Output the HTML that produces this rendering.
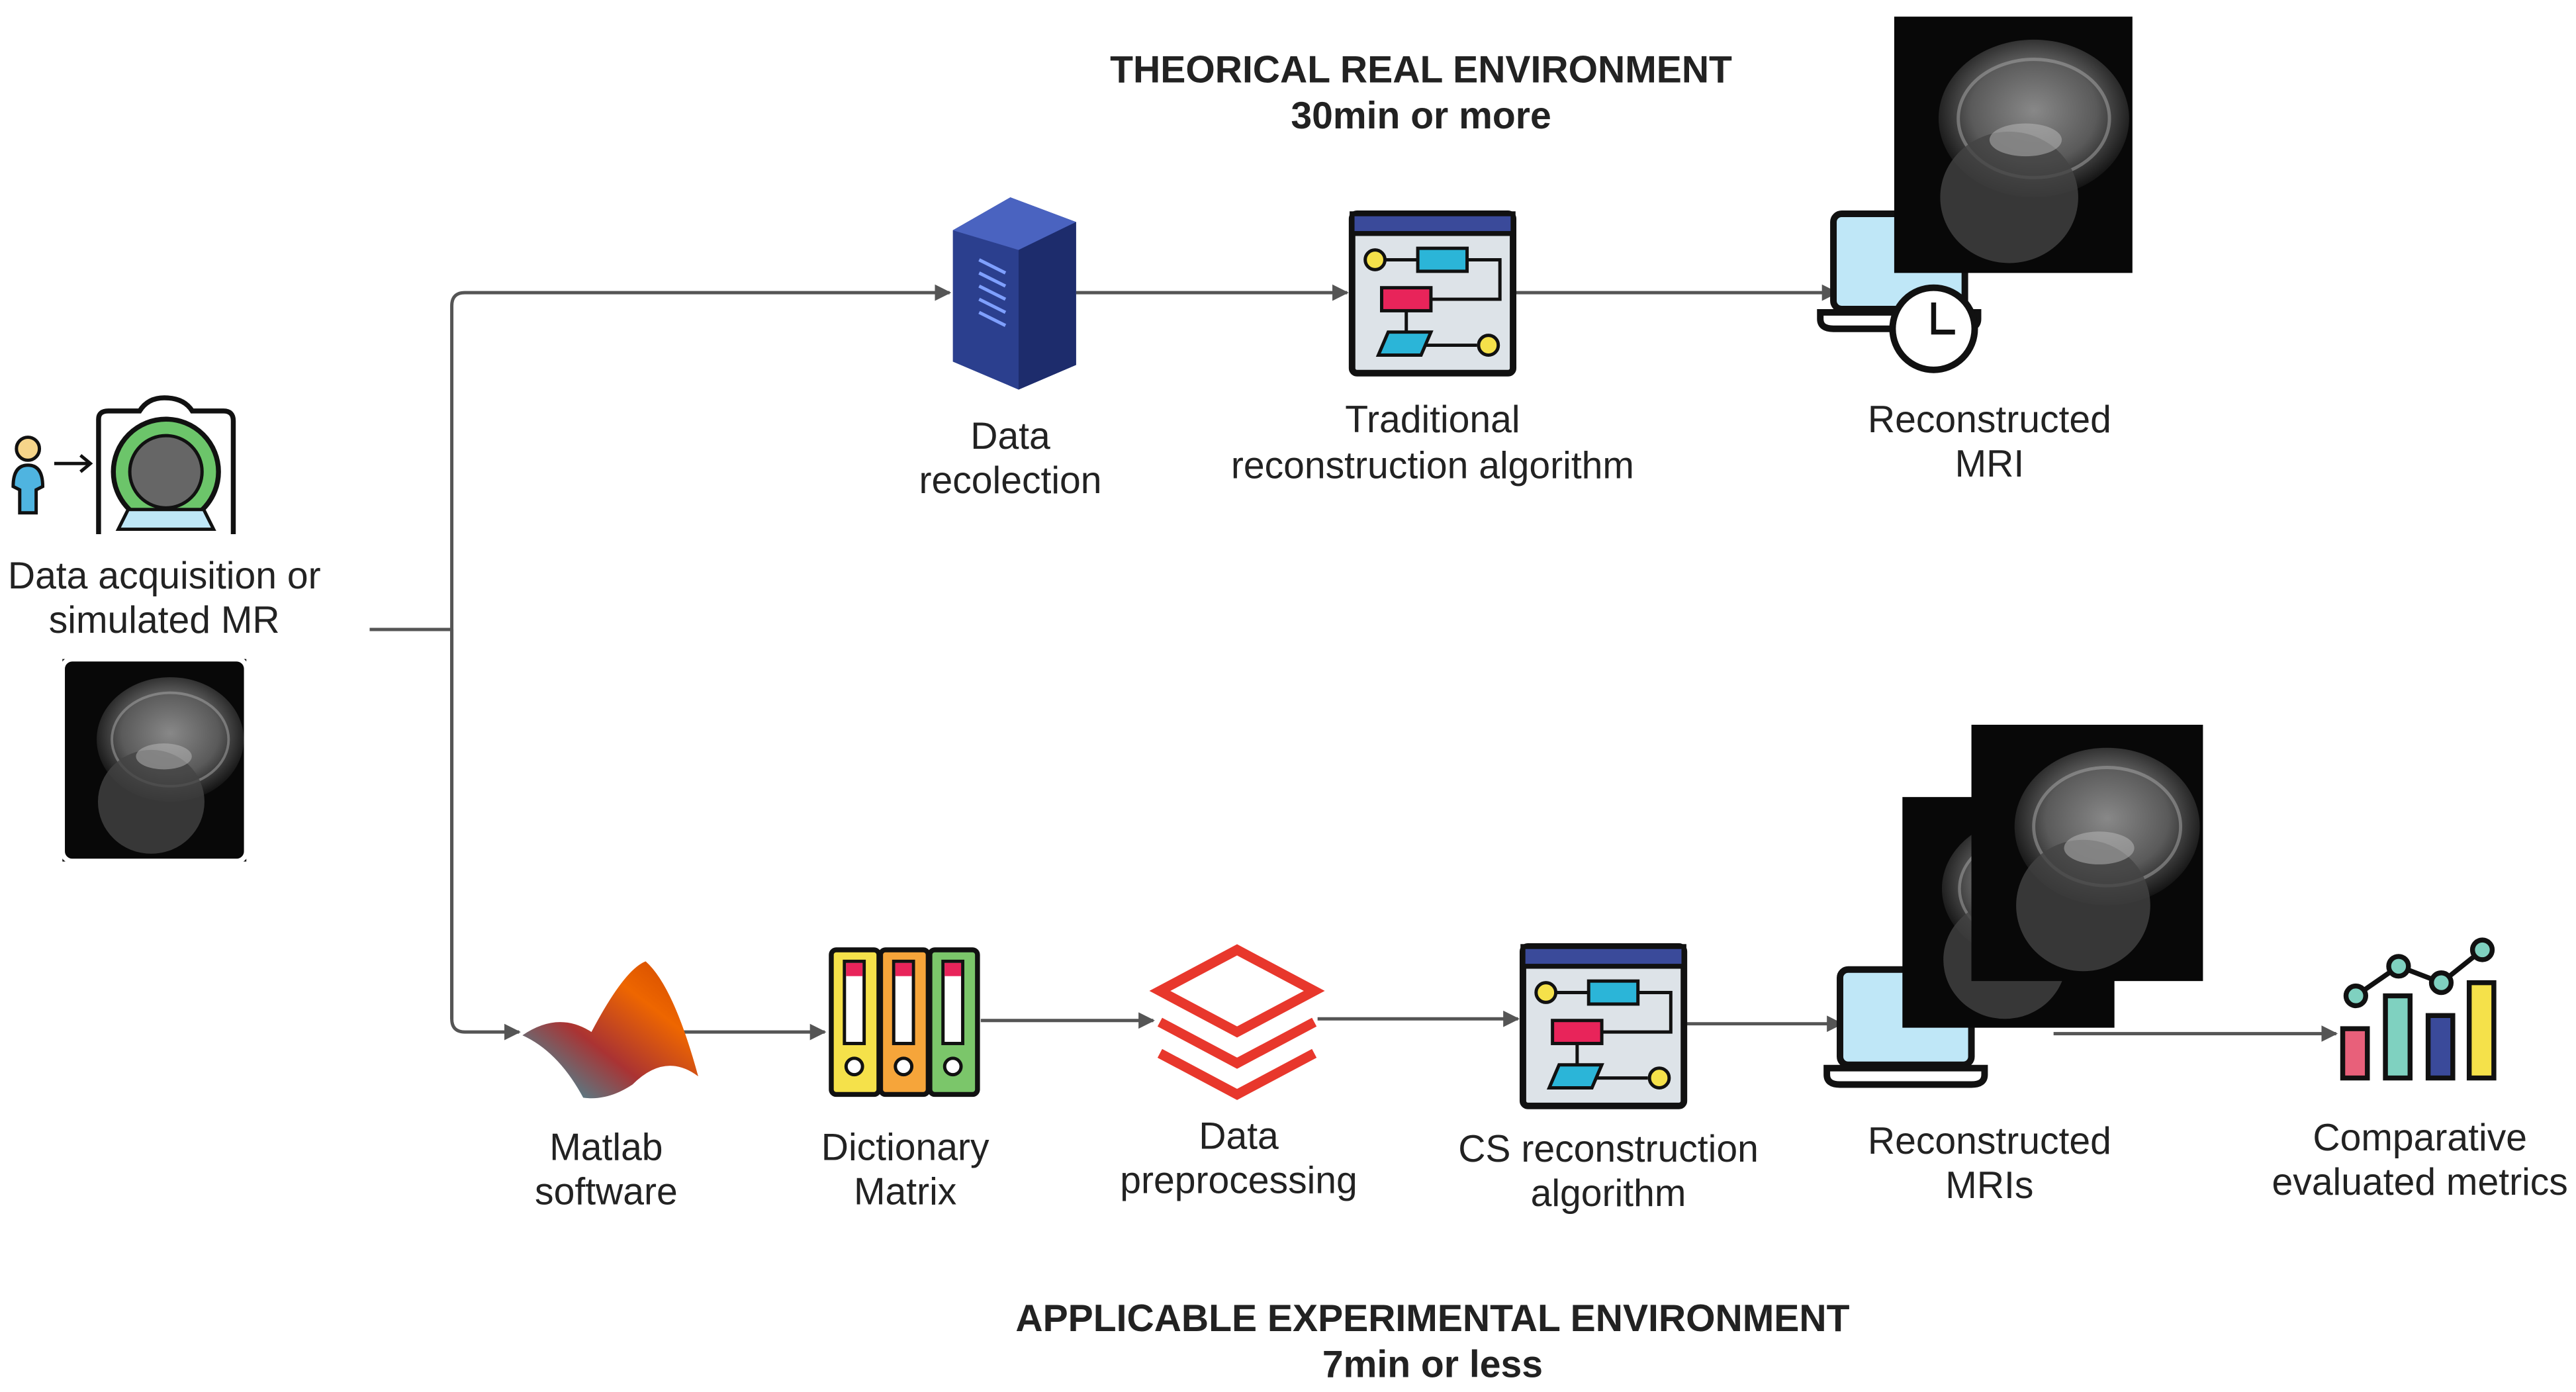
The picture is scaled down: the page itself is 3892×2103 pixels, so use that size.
<!DOCTYPE html>
<html><head><meta charset="utf-8"><style>
html,body{margin:0;padding:0;background:#fff;}
svg{display:block;}
text{font-family:"Liberation Sans",sans-serif;fill:#222;}
</style></head><body>
<svg width="3892" height="2103" viewBox="0 0 1568 847" xmlns="http://www.w3.org/2000/svg">
<defs>
<marker id="ar" markerWidth="10" markerHeight="10" refX="9" refY="5" orient="auto" markerUnits="userSpaceOnUse">
<path d="M0,0 L10,5 L0,10 z" fill="#555"/></marker>
<radialGradient id="brain" cx="0.5" cy="0.45" r="0.55">
<stop offset="0" stop-color="#888"/><stop offset="0.6" stop-color="#5a5a5a"/><stop offset="1" stop-color="#111"/></radialGradient>
<linearGradient id="mat" x1="0" y1="1" x2="1" y2="0">
<stop offset="0" stop-color="#2ab"/><stop offset="0.4" stop-color="#a33"/><stop offset="0.7" stop-color="#e60"/><stop offset="1" stop-color="#c40"/></linearGradient>
<g id="mri">
<rect x="0" y="0" width="145" height="156" fill="#080808"/>
<ellipse cx="85" cy="62" rx="58" ry="48" fill="url(#brain)"/>
<ellipse cx="85" cy="62" rx="46" ry="36" fill="none" stroke="#aaa" stroke-width="2" opacity="0.5"/>
<ellipse cx="70" cy="110" rx="42" ry="40" fill="#444" opacity="0.8"/>
<ellipse cx="80" cy="75" rx="22" ry="10" fill="#bbb" opacity="0.5"/>
</g>
<g id="algo">
<rect x="0" y="0" width="98" height="97" rx="3" fill="#dde3e8" stroke="#111" stroke-width="4"/>
<rect x="0" y="0" width="98" height="12" fill="#3a4a9a" stroke="#111" stroke-width="3"/>
<circle cx="14" cy="28" r="6" fill="#f5e14a" stroke="#111" stroke-width="2"/>
<line x1="20" y1="28" x2="40" y2="28" stroke="#111" stroke-width="2"/>
<rect x="40" y="21" width="30" height="14" fill="#2bb5d8" stroke="#111" stroke-width="2"/>
<path d="M70,28 H90 V52 H48" stroke="#111" stroke-width="2" fill="none"/>
<rect x="18" y="45" width="30" height="14" fill="#e8245a" stroke="#111" stroke-width="2"/>
<line x1="33" y1="59" x2="33" y2="72" stroke="#111" stroke-width="2"/>
<polygon points="22,72 48,72 42,86 16,86" fill="#2bb5d8" stroke="#111" stroke-width="2"/>
<line x1="45" y1="80" x2="76" y2="80" stroke="#111" stroke-width="2"/>
<circle cx="83" cy="80" r="6" fill="#f5e14a" stroke="#111" stroke-width="2"/>
</g>
<g id="laptop">
<rect x="8" y="0" width="80" height="58" rx="5" fill="#bfe7f7" stroke="#111" stroke-width="4"/>
<path d="M0,60 H96 V64 Q96,70 88,70 H8 Q0,70 0,64 Z" fill="#fff" stroke="#111" stroke-width="4"/>
</g>
</defs>

<g font-size="23">
<text x="865" y="50" text-anchor="middle" font-weight="bold">THEORICAL REAL ENVIRONMENT</text>
<text x="865" y="78" text-anchor="middle" font-weight="bold">30min or more</text>
<text x="872" y="810" text-anchor="middle" font-weight="bold">APPLICABLE EXPERIMENTAL ENVIRONMENT</text>
<text x="872" y="838" text-anchor="middle" font-weight="bold">7min or less</text>
</g>

<g stroke="#555" stroke-width="2" fill="none">
<path d="M225,383 H275"/>
<path d="M275,620 V186 Q275,178 283,178 H578" marker-end="url(#ar)"/>
<path d="M275,383 V620 Q275,628 283,628 H316" marker-end="url(#ar)"/>
<path d="M655,178 H820" marker-end="url(#ar)"/>
<path d="M921,178 H1118" marker-end="url(#ar)"/>
<path d="M412,628 H502" marker-end="url(#ar)"/>
<path d="M597,621 H702" marker-end="url(#ar)"/>
<path d="M802,620 H924" marker-end="url(#ar)"/>
<path d="M1025,623 H1121" marker-end="url(#ar)"/>
<path d="M1250,629 H1422" marker-end="url(#ar)"/>
</g>

<circle cx="17" cy="273" r="7" fill="#f6d58a" stroke="#111" stroke-width="2"/>
<path d="M8,296 Q8,283 17,283 Q26,283 26,296 L22,298 V312 H12 V298 Z" fill="#4fb4e0" stroke="#111" stroke-width="2"/>
<line x1="33" y1="282" x2="54" y2="282" stroke="#111" stroke-width="2"/>
<path d="M49,277 L55,282 L49,287" fill="none" stroke="#111" stroke-width="2"/>
<path d="M60,325 V255 Q60,250 66,250 H85 Q90,242 100,242 Q112,242 117,250 H136 Q142,250 142,256 V325" fill="#fff" stroke="#111" stroke-width="3"/>
<circle cx="101" cy="287" r="32" fill="#6cc56a" stroke="#111" stroke-width="3"/>
<circle cx="101" cy="287" r="22" fill="#666" stroke="#111" stroke-width="2"/>
<path d="M78,310 H124 L130,322 H72 Z" fill="#bfe7f7" stroke="#111" stroke-width="2"/>

<g font-size="23" text-anchor="middle">
<text x="100" y="358">Data acquisition or</text>
<text x="100" y="385">simulated MR</text>
<text x="615" y="273">Data</text>
<text x="615" y="300">recolection</text>
<text x="872" y="263">Traditional</text>
<text x="872" y="291">reconstruction algorithm</text>
<text x="1211" y="263">Reconstructed</text>
<text x="1211" y="290">MRI</text>
<text x="369" y="706">Matlab</text>
<text x="369" y="733">software</text>
<text x="551" y="706">Dictionary</text>
<text x="551" y="733">Matrix</text>
<text x="754" y="699">Data</text>
<text x="754" y="726">preprocessing</text>
<text x="979" y="707">CS reconstruction</text>
<text x="979" y="734">algorithm</text>
<text x="1211" y="702">Reconstructed</text>
<text x="1211" y="729">MRIs</text>
<text x="1473" y="700">Comparative</text>
<text x="1473" y="727">evaluated metrics</text>
</g>

<g transform="translate(38,401) scale(0.772,0.79)"><use href="#mri"/></g>
<rect x="38" y="401" width="112" height="123" rx="6" fill="none" stroke="#fff" stroke-width="3"/>

<polygon points="580,140 615,120 655,135 655,222 620,237 580,220" fill="#2b3f8e"/>
<polygon points="580,140 615,120 655,135 620,152" fill="#4a63c0"/>
<polygon points="620,152 655,135 655,222 620,237" fill="#1d2c6c"/>
<g stroke="#7fa0ff" stroke-width="2">
<line x1="596" y1="158" x2="612" y2="166"/><line x1="596" y1="166" x2="612" y2="174"/><line x1="596" y1="174" x2="612" y2="182"/><line x1="596" y1="182" x2="612" y2="190"/><line x1="596" y1="190" x2="612" y2="198"/>
</g>

<use href="#algo" x="823" y="130"/>

<use href="#laptop" x="1108" y="130"/>
<use href="#mri" x="1153" y="10"/>
<circle cx="1177" cy="200" r="25" fill="#fff" stroke="#111" stroke-width="4"/>
<path d="M1177,184 V202 H1190" stroke="#111" stroke-width="3" fill="none"/>

<path d="M318,630 Q340,615 360,628 Q380,590 393,585 Q410,600 425,655 Q405,640 385,660 Q370,670 355,668 Q340,640 318,630 Z" fill="url(#mat)"/>

<g stroke="#111" stroke-width="3">
<rect x="506" y="578" width="29" height="88" rx="3" fill="#f5e14a"/>
<rect x="536" y="578" width="29" height="88" rx="3" fill="#f6a53a"/>
<rect x="566" y="578" width="29" height="88" rx="3" fill="#7bc66a"/>
<rect x="514" y="585" width="12" height="50" fill="#fff" stroke-width="2"/>
<rect x="544" y="585" width="12" height="50" fill="#fff" stroke-width="2"/>
<rect x="574" y="585" width="12" height="50" fill="#fff" stroke-width="2"/>
<circle cx="520" cy="649" r="5" fill="#fff" stroke-width="2"/>
<circle cx="550" cy="649" r="5" fill="#fff" stroke-width="2"/>
<circle cx="580" cy="649" r="5" fill="#fff" stroke-width="2"/>
</g>
<rect x="515" y="586" width="10" height="8" fill="#e8245a"/><rect x="545" y="586" width="10" height="8" fill="#e8245a"/><rect x="575" y="586" width="10" height="8" fill="#e8245a"/>

<g fill="none" stroke="#e8372c" stroke-width="6" stroke-linejoin="miter">
<polygon points="753,578 800,603 753,628 706,603"/>
<polyline points="706,622 753,647 800,622"/>
<polyline points="706,641 753,666 800,641"/>
</g>

<use href="#algo" x="927" y="576"/>

<use href="#laptop" x="1112" y="590"/>
<g transform="translate(1158,485) scale(0.89,0.9)"><use href="#mri"/></g>
<g transform="translate(1200,441) scale(0.972,1)"><use href="#mri"/></g>

<g stroke="#111" stroke-width="3">
<rect x="1426" y="626" width="15" height="30" fill="#e8607a"/>
<rect x="1452" y="606" width="15" height="50" fill="#7fd1c0"/>
<rect x="1478" y="618" width="15" height="38" fill="#3a4a9a"/>
<rect x="1503" y="598" width="15" height="58" fill="#f5e14a"/>
<polyline points="1434,606 1460,588 1486,598 1511,578" fill="none"/>
<circle cx="1434" cy="606" r="6" fill="#7fd1c0"/>
<circle cx="1460" cy="588" r="6" fill="#7fd1c0"/>
<circle cx="1486" cy="598" r="6" fill="#7fd1c0"/>
<circle cx="1511" cy="578" r="6" fill="#7fd1c0"/>
</g>
</svg>
</body></html>
